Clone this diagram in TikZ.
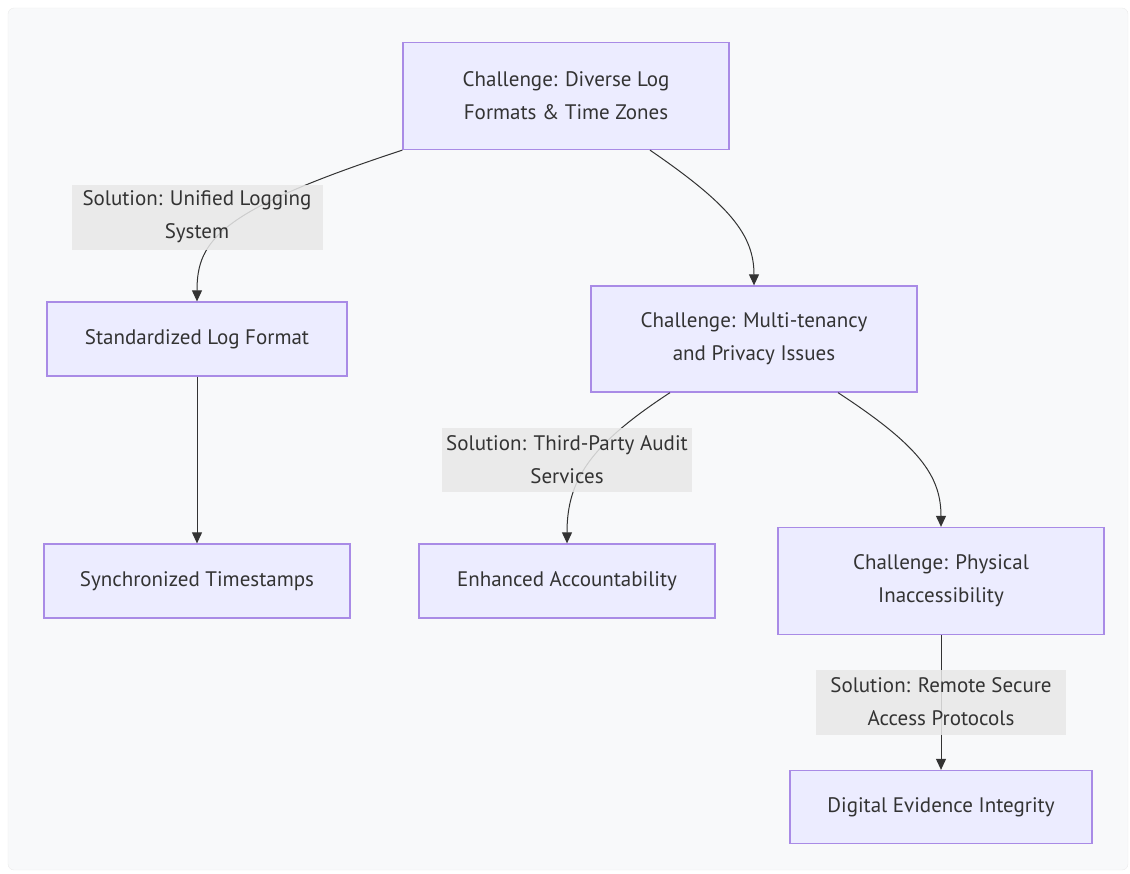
\documentclass[tikz,border=0pt]{standalone}
\usepackage{fontspec}
\setmainfont{PT Sans}
\usetikzlibrary{arrows.meta}

\definecolor{boxfill}{HTML}{ECECFF}
\definecolor{boxline}{HTML}{A98BE6}
\definecolor{lblfill}{HTML}{E8E8E8}
\definecolor{ink}{HTML}{333333}
\definecolor{canvas}{HTML}{F8F9FA}

\tikzset{
  box/.style={draw=boxline, fill=boxfill, line width=1.3pt, text=ink,
    align=center, inner sep=0pt, font=\fontsize{21}{33}\selectfont},
  lbl/.style={fill=lblfill, fill opacity=0.85, text opacity=1, text=ink,
    align=center, inner sep=0pt, font=\fontsize{21}{33}\selectfont},
  link/.style={draw=ink, line width=1pt, -{Triangle[length=11pt,width=10pt]}},
}

\begin{document}
\begin{tikzpicture}[x=1pt, y=-1pt]
    \useasboundingbox (0,0) rectangle (1130,873);
    \draw[fill=canvas, draw=black!8, rounded corners=6pt] (8,8) rectangle (1128,870);

    % challenge and solution boxes
    \node[box, minimum width=326, minimum height=107] (diverse) at (566,96) {Challenge: Diverse Log\\Formats \& Time Zones};
    \node[box, minimum width=300, minimum height=74] (stdfmt) at (197,339) {Standardized Log Format};
    \node[box, minimum width=306, minimum height=74] (sync) at (197,581) {Synchronized Timestamps};
    \node[box, minimum width=326, minimum height=106] (tenancy) at (754,339) {Challenge: Multi-tenancy\\and Privacy Issues};
    \node[box, minimum width=296, minimum height=74] (account) at (567,581) {Enhanced Accountability};
    \node[box, minimum width=326, minimum height=107] (physical) at (941,581) {Challenge: Physical\\Inaccessibility};
    \node[box, minimum width=302, minimum height=73] (integrity) at (941,807) {Digital Evidence Integrity};

    % connectors
    \draw[link] (diverse.south west) .. controls (220,210) and (197,240) .. (stdfmt.north);
    \draw[link] ([xshift=84pt]diverse.south) .. controls (730,205) and (754,235) .. (tenancy.north);
    \draw[link] (stdfmt) -- (sync);
    \draw[link] ([xshift=-84pt]tenancy.south) .. controls (590,445) and (567,480) .. (account.north);
    \draw[link] ([xshift=84pt]tenancy.south) .. controls (918,445) and (941,475) .. (physical.north);
    \draw[link] (physical) -- (integrity);

    % edge labels
    \node[lbl, minimum width=251, minimum height=65] (unified) at (197,217) {Solution: Unified Logging\\System};
    \node[lbl, minimum width=250, minimum height=64] (audit) at (567,460) {Solution: Third-Party Audit\\Services};
    \node[lbl, minimum width=250, minimum height=65] (remote) at (941,702) {Solution: Remote Secure\\Access Protocols};
\end{tikzpicture}
\end{document}
